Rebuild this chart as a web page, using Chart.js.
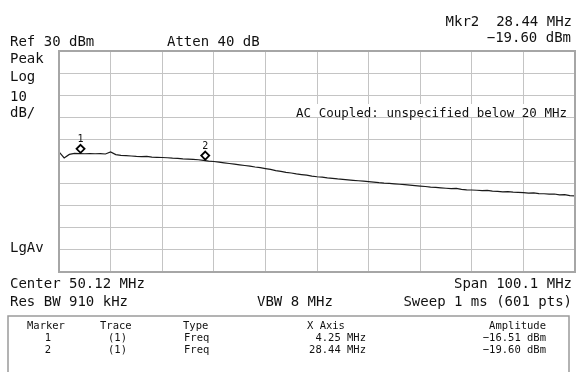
<!DOCTYPE html>
<html>
  <head>
    <script src="https://cdn.jsdelivr.net/npm/chart.js"></script>
    <style>
      body {
        margin: 0;
        background: #fff;
      }
      .screen {
        position: relative;
        width: 576px;
        height: 372px;
      }
    </style>
  </head>
  <body>
    <div class="screen">
      <canvas id="sweepChart" width="576" height="372"></canvas>
    </div>

    <script>
      // sweep settings
      var startMHz = 0.07;
      var stopMHz = 100.17;
      var refLevel = 30;
      var dbPerDiv = 10;

      // trace 1, read every ~1 MHz across the span
      var traceDbm = [
        -15.6, -18.4, -16.8, -16.3, -16.4, -16.5, -16.4, -16.5, -16.4, -16.6,
        -15.7, -16.9, -17.2, -17.3, -17.5, -17.7, -17.8, -17.7, -18.0, -18.1,
        -18.2, -18.3, -18.5, -18.6, -18.8, -18.9, -19.0, -19.2, -19.5, -19.8,
        -20.0, -20.3, -20.6, -20.9, -21.2, -21.5, -21.8, -22.1, -22.5, -22.8,
        -23.2, -23.6, -24.1, -24.5, -24.9, -25.2, -25.6, -25.9, -26.2, -26.6,
        -26.9, -27.1, -27.4, -27.6, -27.9, -28.1, -28.3, -28.5, -28.7, -28.9,
        -29.1, -29.3, -29.6, -29.8, -29.9, -30.1, -30.3, -30.5, -30.7, -30.9,
        -31.1, -31.3, -31.6, -31.7, -31.9, -32.1, -32.3, -32.2, -32.6, -32.8,
        -32.9, -33.0, -33.2, -33.1, -33.4, -33.5, -33.7, -33.6, -33.9, -34.0,
        -34.1, -34.3, -34.2, -34.5, -34.6, -34.8, -34.7, -35.1, -35.0, -35.4,
        -35.6
      ];

      // markers
      var markerNames = ['1', '2'];
      var markerMHz = [4.25, 28.44];
      var markerDbm = [-16.51, -19.60];

      var sweepStep = (stopMHz - startMHz) / (traceDbm.length - 1);
      var tracePoints = traceDbm.map(function(v, i) {
        return { x: startMHz + i * sweepStep, y: v };
      });

      var FONT = '"DejaVu Sans Mono", "Liberation Mono", monospace';

      function txt(ctx, s, x, y, size, align) {
        ctx.font = size + 'px ' + FONT;
        ctx.textAlign = align || 'left';
        ctx.fillText(s, x, y);
      }

      // annotation text + marker diamonds, drawn on top of the grid
      var screenText = {
        id: 'screenText',
        afterDraw: function(chart) {
          var ctx = chart.ctx;
          var area = chart.chartArea;
          var xs = chart.scales.x, ys = chart.scales.y;
          ctx.save();

          // frame
          ctx.strokeStyle = '#a6a6a6';
          ctx.lineWidth = 2;
          ctx.strokeRect(area.left, area.top, area.right - area.left, area.bottom - area.top);

          ctx.fillStyle = '#111';
          ctx.textBaseline = 'alphabetic';

          txt(ctx, 'Mkr2  28.44 MHz', 572, 26, 14, 'right');
          txt(ctx, '\u221219.60 dBm', 571, 42, 14, 'right');
          txt(ctx, 'Ref 30 dBm', 10, 46, 14);
          txt(ctx, 'Atten 40 dB', 167, 46, 14);
          txt(ctx, 'Peak', 10, 63, 14);
          txt(ctx, 'Log', 10, 81, 14);
          txt(ctx, '10', 10, 101, 14);
          txt(ctx, 'dB/', 10, 117, 14);
          txt(ctx, 'LgAv', 10, 252, 14);

          // note sits on a white patch over the grid
          ctx.font = '12.5px ' + FONT;
          var note = 'AC Coupled: unspecified below 20 MHz';
          var w = ctx.measureText(note).width;
          ctx.fillStyle = '#fff';
          ctx.fillRect(567 - w - 2, 104, w + 4, 13);
          ctx.fillStyle = '#111';
          txt(ctx, note, 567, 117, 12.5, 'right');

          txt(ctx, 'Center 50.12 MHz', 10, 288, 14);
          txt(ctx, 'Span 100.1 MHz', 572, 288, 14, 'right');
          txt(ctx, 'Res BW 910 kHz', 10, 306, 14);
          txt(ctx, 'VBW 8 MHz', 257, 306, 14);
          txt(ctx, 'Sweep 1 ms (601 pts)', 572, 306, 14, 'right');

          // marker table
          ctx.strokeStyle = '#9a9a9a';
          ctx.lineWidth = 1.5;
          ctx.strokeRect(8, 316, 561, 70);
          var f = 10.5;
          txt(ctx, 'Marker', 27, 329, f);
          txt(ctx, 'Trace', 100, 329, f);
          txt(ctx, 'Type', 183, 329, f);
          txt(ctx, 'X Axis', 307, 329, f);
          txt(ctx, 'Amplitude', 546, 329, f, 'right');
          markerNames.forEach(function(name, i) {
            var y = 341 + i * 12;
            txt(ctx, name, 48, y, f, 'center');
            txt(ctx, '(1)', 108, y, f);
            txt(ctx, 'Freq', 184, y, f);
            txt(ctx, markerMHz[i].toFixed(2) + ' MHz', 366, y, f, 'right');
            txt(ctx, markerDbm[i].toFixed(2).replace('-', '\u2212') + ' dBm', 546, y, f, 'right');
          });

          // diamonds sit just above the trace point, number above that
          markerNames.forEach(function(name, i) {
            var px = xs.getPixelForValue(markerMHz[i]);
            var py = ys.getPixelForValue(markerDbm[i]);
            var cy = py - 5, r = 4;
            ctx.beginPath();
            ctx.moveTo(px, cy - r);
            ctx.lineTo(px + r, cy);
            ctx.lineTo(px, cy + r);
            ctx.lineTo(px - r, cy);
            ctx.closePath();
            ctx.fillStyle = '#fff';
            ctx.fill();
            ctx.strokeStyle = '#000';
            ctx.lineWidth = 1.8;
            ctx.stroke();
            ctx.fillStyle = '#111';
            txt(ctx, name, px, cy - 7, 10, 'center');
          });

          ctx.restore();
        }
      };

      var ctx = document.getElementById('sweepChart').getContext('2d');
      new Chart(ctx, {
        type: 'line',
        data: {
          datasets: [{
            data: tracePoints,
            borderColor: '#1a1a1a',
            borderWidth: 1.2,
            pointRadius: 0,
            tension: 0,
            fill: false
          }]
        },
        options: {
          responsive: false,
          animation: false,
          events: [],
          layout: { padding: { left: 59, top: 51, right: 1, bottom: 100 } },
          plugins: {
            legend: { display: false },
            tooltip: { enabled: false }
          },
          scales: {
            x: {
              type: 'linear',
              min: startMHz,
              max: stopMHz,
              afterBuildTicks: function(axis) {
                var t = [];
                for (var i = 0; i <= 10; i++) {
                  t.push({ value: axis.min + i * (axis.max - axis.min) / 10 });
                }
                axis.ticks = t;
              },
              ticks: { display: false },
              grid: { color: '#c4c4c4', lineWidth: 1, drawTicks: false },
              border: { display: false }
            },
            y: {
              type: 'linear',
              min: refLevel - 10 * dbPerDiv,
              max: refLevel,
              ticks: { display: false, stepSize: dbPerDiv },
              grid: { color: '#c4c4c4', lineWidth: 1, drawTicks: false },
              border: { display: false }
            }
          }
        },
        plugins: [screenText]
      });
    </script>
  </body>
</html>
